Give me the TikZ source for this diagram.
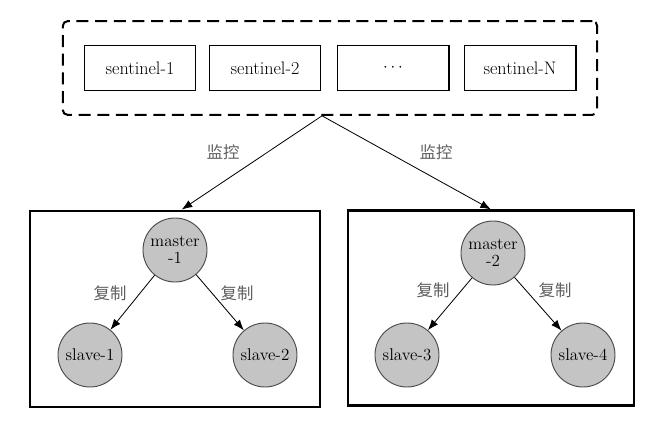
\documentclass[tikz,border=0pt]{standalone}
\usepackage{fontspec}
\newfontfamily\cjk{Noto Sans CJK SC}
\usetikzlibrary{arrows.meta,fit}
\definecolor{nodegray}{RGB}{196,196,196}
\definecolor{labelgray}{RGB}{95,95,95}
\tikzset{
  sentinel/.style={draw, line width=1.7pt, minimum width=3.33cm, minimum height=1.35cm, font=\fontsize{15.5}{17}\selectfont},
  group/.style={draw, line width=1.7pt, dash pattern=on 0.36cm off 0.2cm, rounded corners=4pt, inner xsep=0.62cm, inner ysep=0.7cm},
  cluster/.style={draw, line width=1.8pt},
  redis/.style={circle, draw=black!70, line width=0.8pt, fill=nodegray, minimum size=1.92cm, inner sep=0pt, align=center, font=\fontsize{14.5}{14.5}\selectfont},
  tag/.style={text=labelgray, font=\cjk\fontsize{14}{14}\selectfont},
  link/.style={-{Latex[length=3.2mm,width=2.4mm]}, line width=0.7pt}
}
\begin{document}
\begin{tikzpicture}[x=0.03cm,y=-0.03cm]
\useasboundingbox (0,0) rectangle (660,444);

\node[sentinel] (s1) at (140,68) {sentinel-1};
\node[sentinel] (s2) at (265,68) {sentinel-2};
\node[sentinel] (s3) at (393,68) {$\cdots$};
\node[sentinel] (sN) at (520,68) {sentinel-N};
\node[group, fit=(s1)(sN)] (sentinels) {};
\coordinate (apex) at ([xshift=-0.24cm]sentinels.south);

\node[cluster, minimum width=8.7cm, minimum height=5.9cm] (c1) at (175,309) {};
\node[cluster, minimum width=8.6cm, minimum height=5.85cm] (c2) at (491,308) {};

\draw[link] (apex) -- ([xshift=0.2cm]c1.north);
\draw[link] (apex) -- (c2.north);
\node[tag] (watch1) at (223,152) {监控};
\node[tag] (watch2) at (436,152) {监控};

\node[redis] (master1) at (175,250) {master\\-1};
\node[redis] (slave1) at (90,355) {slave-1};
\node[redis] (slave2) at (265,355) {slave-2};
\draw[link] (master1) -- (slave1);
\draw[link] (master1) -- (slave2);
\node[tag] (copy1) at (110,293) {复制};
\node[tag] (copy2) at (237,293) {复制};

\node[redis] (master2) at (493,253) {master\\-2};
\node[redis] (slave3) at (407,355) {slave-3};
\node[redis] (slave4) at (583,355) {slave-4};
\draw[link] (master2) -- (slave3);
\draw[link] (master2) -- (slave4);
\node[tag] (copy3) at (433,290) {复制};
\node[tag] (copy4) at (555,290) {复制};
\end{tikzpicture}
\end{document}
